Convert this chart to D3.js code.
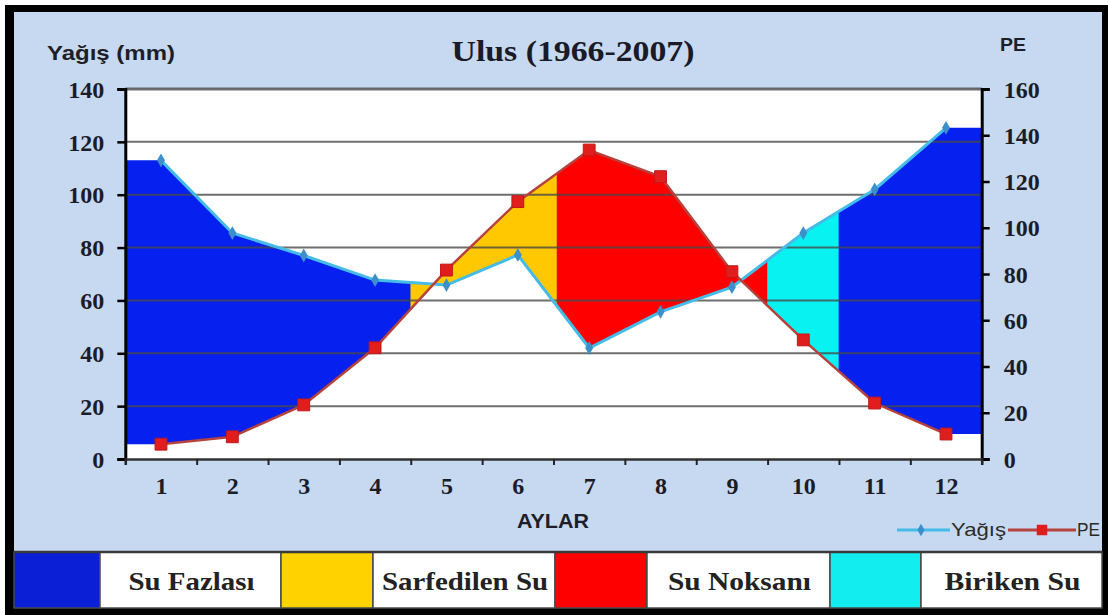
<!DOCTYPE html>
<html><head><meta charset="utf-8">
<script src="https://cdn.jsdelivr.net/npm/d3@7"></script>
<style>html,body{margin:0;padding:0;background:#fff}svg{display:block}</style>
</head><body>
<svg id="chart" width="1108" height="615"></svg>
<script>
// ---- data ----
const months = [1,2,3,4,5,6,7,8,9,10,11,12];
const yagis = [113, 85.5, 77, 67.7, 65.8, 77.2, 42, 55.7, 65, 85.5, 102, 125.3];
const pe    = [6.4, 9.6, 23.4, 48.1, 81.7, 111.3, 133.6, 122.1, 81, 51.5, 24.2, 10.8];
const leftTicks  = [0,20,40,60,80,100,120,140];
const rightTicks = [0,20,40,60,80,100,120,140,160];
const zoneNames  = ["Su Fazlası","Sarfedilen Su","Su Noksanı","Biriken Su"];
const zoneFill   = ["#0620f0","#ffc800","#ff0000","#08f2f2"];
const zoneLegend = ["#0b1fd6","#ffd200","#ff0000","#12eef0"];
const zoneBounds = [0.5, 4.5, 6.55, 9.5, 10.5, 12.5];
const zoneOfSpan = [0,1,2,3,0];
const titleText = "Ulus (1966-2007)";
const leftTitle = "Yağış (mm)";
const rightTitle = "PE";
const xTitle = "AYLAR";
const seriesNames = ["Yağış","PE"];

// ---- layout ----
const svg = d3.select("#chart");
const L = 125.3, R = 981.7, T = 89, B = 459;
const x  = d3.scaleLinear().domain([0.5,12.5]).range([L,R]);
const yL = d3.scaleLinear().domain([0,140]).range([B,T]);
const yR = d3.scaleLinear().domain([0,160]).range([B,T]);
const serif = "'Liberation Serif','Times New Roman',serif";
const sans = "'Liberation Sans',Arial,sans-serif";

// frame
svg.append("rect").attr("x",5).attr("y",5).attr("width",1103).attr("height",610).attr("fill","#000");
svg.append("rect").attr("x",14).attr("y",12).attr("width",1088).attr("height",540).attr("fill","#c6d9f0");

// plot background
svg.append("rect").attr("x",L).attr("y",T).attr("width",R-L).attr("height",B-T).attr("fill","#fff");

// fills between curves
const ext = [{m:0.5, y:yagis[0], p:pe[0]}]
  .concat(months.map((m,i)=>({m, y:yagis[i], p:pe[i]})))
  .concat([{m:12.5, y:yagis[11], p:pe[11]}]);
const area = d3.area().x(d=>x(d.m)).y0(d=>yR(d.p)).y1(d=>yL(d.y));
const defs = svg.append("defs");
zoneOfSpan.forEach((z,i)=>{
  defs.append("clipPath").attr("id","clip"+i).append("rect")
    .attr("x", x(zoneBounds[i])-0.3).attr("y",T)
    .attr("width", x(zoneBounds[i+1])-x(zoneBounds[i])+0.6).attr("height",B-T);
  svg.append("path").datum(ext).attr("d",area)
    .attr("fill",zoneFill[z]).attr("clip-path","url(#clip"+i+")");
});

// gridlines
svg.append("g").selectAll("line").data(leftTicks.filter(v=>v>0)).join("line")
  .attr("x1",L).attr("x2",R).attr("y1",d=>yL(d)).attr("y2",d=>yL(d))
  .attr("stroke","#4a4a4a").attr("stroke-opacity",0.8).attr("stroke-width",d=>d===140?3:2);

// axes
const axL = svg.append("g").attr("transform",`translate(${L},0)`)
  .call(d3.axisLeft(yL).tickValues(leftTicks).tickSize(8).tickPadding(13));
const axR = svg.append("g").attr("transform",`translate(${R},0)`)
  .call(d3.axisRight(yR).tickValues(rightTicks).tickSize(8).tickPadding(14));
[axL,axR].forEach(g=>{
  g.select(".domain").attr("stroke","#000").attr("stroke-width",3);
  g.selectAll(".tick line").attr("stroke","#000").attr("stroke-width",2.5);
  g.selectAll(".tick text").attr("font-family",serif).attr("font-weight","bold")
    .attr("font-size",24).attr("fill","#1c1c28").attr("dy","0.34em");
});
const axB = svg.append("g").attr("transform",`translate(0,${B})`)
  .call(d3.axisBottom(x).tickValues(zoneBounds.length? d3.range(0.5,12.6,1):[]).tickSize(6).tickFormat(""));
axB.select(".domain").attr("stroke","#333").attr("stroke-width",2.5);
axB.selectAll(".tick line").attr("stroke","#222").attr("stroke-width",2);
const axB2 = svg.append("g").attr("transform",`translate(0,${B})`)
  .call(d3.axisBottom(x).tickValues(months).tickSize(0).tickPadding(18));
axB2.select(".domain").remove();
axB2.selectAll(".tick text").attr("font-family",serif).attr("font-weight","bold")
  .attr("font-size",24).attr("fill","#1c1c28");

// lines
const line = (arr, sc)=>d3.line().x((d,i)=>x(months[i])).y(d=>sc(d))(arr);
svg.append("path").attr("d",line(yagis,yL)).attr("fill","none")
  .attr("stroke","#45bce8").attr("stroke-width",3);
svg.append("path").attr("d",line(pe,yR)).attr("fill","none")
  .attr("stroke","#b5423c").attr("stroke-width",2.5);
svg.append("g").selectAll("path").data(yagis).join("path")
  .attr("transform",(d,i)=>`translate(${x(months[i])},${yL(d)})`)
  .attr("d",d3.symbol(d3.symbolDiamond,55)).attr("fill","#3d8fc9");
svg.append("g").selectAll("path").data(pe).join("path")
  .attr("transform",(d,i)=>`translate(${x(months[i])},${yR(d)})`)
  .attr("d",d3.symbol(d3.symbolSquare,140)).attr("fill","#e01e1e").attr("stroke","#c21818").attr("stroke-width",1);

// titles
svg.append("text").attr("x",573).attr("y",61).attr("text-anchor","middle")
  .attr("font-family",serif).attr("font-weight","bold").attr("font-size",30)
  .attr("fill","#1a1a28").attr("textLength",243).attr("lengthAdjust","spacingAndGlyphs").text(titleText);
svg.append("text").attr("x",47).attr("y",60)
  .attr("font-family",sans).attr("font-weight","bold").attr("font-size",21)
  .attr("fill","#1e1e28").attr("textLength",128).attr("lengthAdjust","spacingAndGlyphs").text(leftTitle);
svg.append("text").attr("x",1000).attr("y",51)
  .attr("font-family",sans).attr("font-weight","bold").attr("font-size",19)
  .attr("fill","#1e1e28").attr("textLength",26).attr("lengthAdjust","spacingAndGlyphs").text(rightTitle);
svg.append("text").attr("x",553).attr("y",528).attr("text-anchor","middle")
  .attr("font-family",sans).attr("font-weight","bold").attr("font-size",20)
  .attr("fill","#1e1e28").attr("textLength",72).attr("lengthAdjust","spacingAndGlyphs").text(xTitle);

// series legend
const sl = svg.append("g");
sl.append("line").attr("x1",897).attr("x2",950).attr("y1",530).attr("y2",530).attr("stroke","#45bce8").attr("stroke-width",3);
sl.append("path").attr("transform","translate(921,530)").attr("d",d3.symbol(d3.symbolDiamond,45)).attr("fill","#3d8fc9");
sl.append("text").attr("x",951).attr("y",536).attr("font-family","'Liberation Sans Narrow',"+sans)
  .attr("font-size",19).attr("fill","#2a2a2a").attr("textLength",55).attr("lengthAdjust","spacingAndGlyphs").text(seriesNames[0]);
sl.append("line").attr("x1",1008).attr("x2",1076).attr("y1",530).attr("y2",530).attr("stroke","#b5423c").attr("stroke-width",3);
sl.append("path").attr("transform","translate(1042,530)").attr("d",d3.symbol(d3.symbolSquare,110)).attr("fill","#e01e1e");
sl.append("text").attr("x",1077).attr("y",536).attr("font-family","'Liberation Sans Narrow',"+sans)
  .attr("font-size",19).attr("fill","#2a2a2a").attr("textLength",23).attr("lengthAdjust","spacingAndGlyphs").text(seriesNames[1]);

// zone legend row
const rowY = 552, rowH = 56;
const cells = [[14,100],[100,281],[281,373],[373,555],[555,647],[647,830],[830,921],[921,1102]];
const textW = [126,166,143,136];
svg.append("rect").attr("x",14).attr("y",rowY).attr("width",1088).attr("height",rowH).attr("fill","#fff");
cells.forEach((c,i)=>{
  const z = Math.floor(i/2);
  svg.append("rect").attr("x",c[0]).attr("y",rowY).attr("width",c[1]-c[0]).attr("height",rowH)
    .attr("fill", i%2===0 ? zoneLegend[z] : "#fff").attr("stroke","#4a4a4a").attr("stroke-width",1.5);
  if(i%2===1){
    svg.append("text").attr("x",(c[0]+c[1])/2+1).attr("y",590).attr("text-anchor","middle")
      .attr("font-family",serif).attr("font-weight","bold").attr("font-size",25).attr("fill","#222")
      .attr("textLength",textW[z]).attr("lengthAdjust","spacingAndGlyphs").text(zoneNames[z]);
  }
});
svg.append("line").attr("x1",14).attr("x2",1102).attr("y1",rowY).attr("y2",rowY).attr("stroke","#3a3a3a").attr("stroke-width",2.5);
</script>
</body></html>
